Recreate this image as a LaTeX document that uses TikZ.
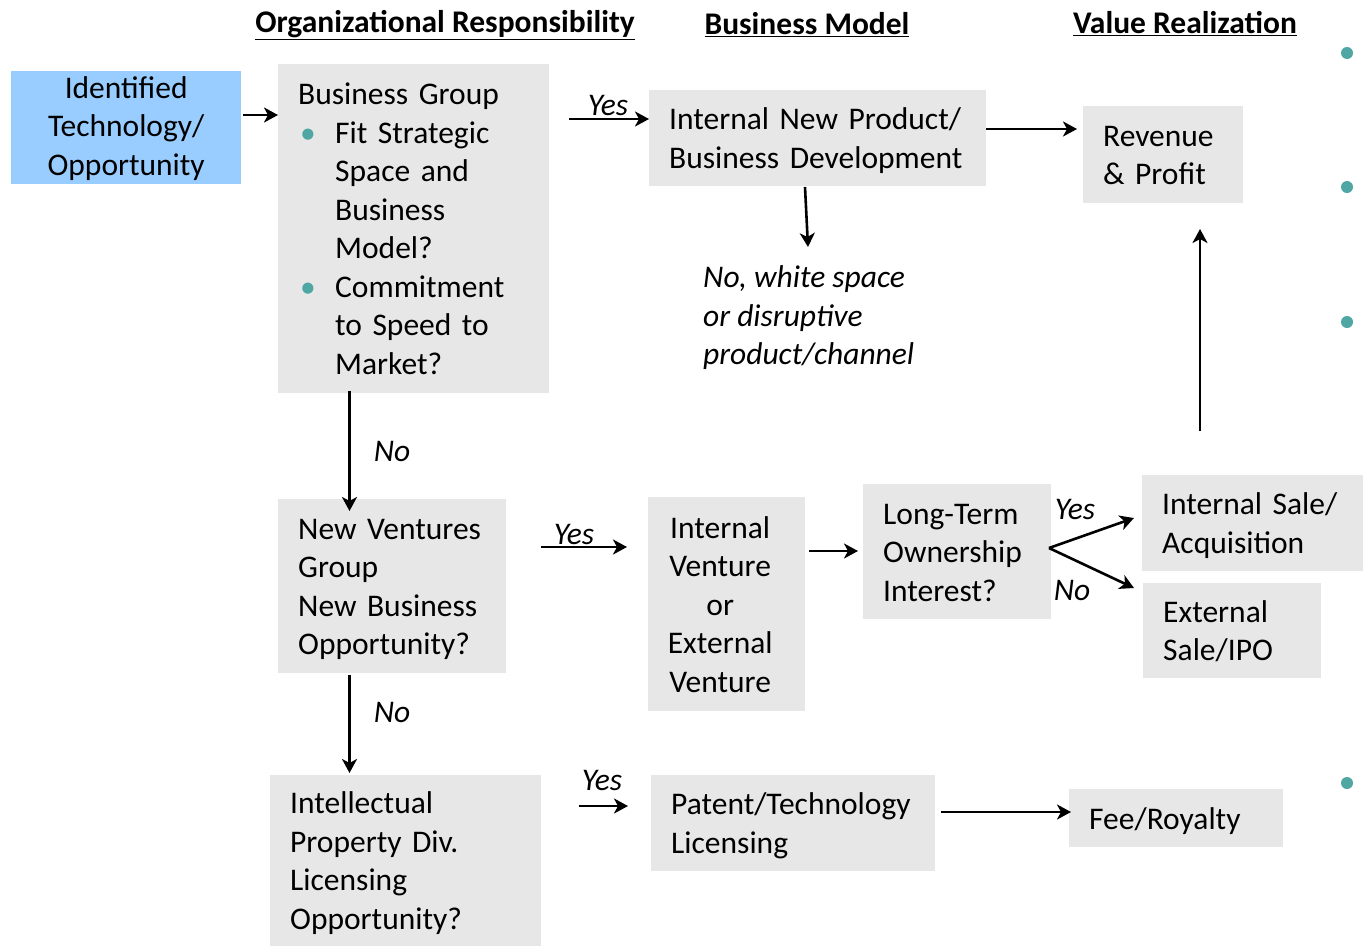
\documentclass[tikz,border=0pt]{standalone}
\usepackage{fontspec}
\setmainfont{Carlito}
\usetikzlibrary{arrows.meta}
\definecolor{boxgray}{RGB}{231,231,231}
\definecolor{boxblue}{RGB}{153,204,255}
\definecolor{dotc}{RGB}{78,167,163}
\newcommand{\topstrut}{\rule{0pt}{31pt}}
\newcommand{\lowtopstrut}{\rule{0pt}{27pt}}
\newcommand{\botstrut}{\rule[-9pt]{0pt}{9pt}}
\begin{document}
\begin{tikzpicture}[x=1pt,y=-1pt,
  every node/.style={font=\fontsize{31.5}{38.5}\selectfont},
  boxbase/.style={fill=boxgray, anchor=north west, inner xsep=20pt, inner ysep=0pt, align=left},
  box/.style={boxbase, execute at begin node={\topstrut}, execute at end node={\botstrut}},
  lbl/.style={font=\fontsize{31.5}{38.5}\selectfont\itshape, inner sep=0pt},
  hdr/.style={font=\fontsize{31.5}{38.5}\selectfont\bfseries, inner sep=0pt},
  arr/.style={line width=2.6pt, -{Stealth[length=14pt,width=15pt,inset=4pt]}},
  tdot/.style={fill=dotc, draw=none, circle, minimum size=12pt, inner sep=0pt}
]
\useasboundingbox (0,0) rectangle (1363,946);
\fill[white] (0,0) rectangle (1363,946);

% headers
\node[hdr] (h1) at (445,25) {\underline{Organizational Responsibility}};
\node[hdr] (h2) at (807,25) {\underline{Business Model}};
\node[hdr] (h3) at (1185,24) {\underline{Value Realization}};

% right edge dots
\node[tdot] (d1) at (1347,53) {};
\node[tdot] (d2) at (1347,187) {};
\node[tdot] (d3) at (1347,322) {};
\node[tdot] (d4) at (1347,783) {};

% boxes
\node[boxbase, fill=boxblue, align=center, minimum width=230pt, minimum height=113pt, text width=190pt,
  execute at begin node={\lowtopstrut}, execute at end node={\botstrut}] (idt) at (11,71)
  {Identified\\Technology/\\Opportunity};
\node[box, minimum width=271pt, minimum height=329pt, text width=231pt] (bg) at (278,64)
  {Business Group\\
   \makebox[37pt][l]{\hspace{2pt}\textcolor{dotc}{\textbullet}}Fit Strategic\\
   \hspace*{37pt}Space and\\
   \hspace*{37pt}Business\\
   \hspace*{37pt}Model?\\
   \makebox[37pt][l]{\hspace{2pt}\textcolor{dotc}{\textbullet}}Commitment\\
   \hspace*{37pt}to Speed to\\
   \hspace*{37pt}Market?};
\node[box, minimum width=337pt, minimum height=96pt, text width=297pt] (inp) at (649,90)
  {Internal New Product/\\Business Development};
\node[box, minimum width=160pt, minimum height=97pt, text width=120pt] (rev) at (1083,106)
  {Revenue\\\& Profit};
\node[box, minimum width=228pt, minimum height=174pt, text width=188pt] (nvg) at (278,499)
  {New Ventures\\Group\\New Business\\Opportunity?};
\node[box, minimum width=157pt, minimum height=214pt, text width=117pt] (iv) at (648,497)
  {\makebox[104pt]{Internal}\\\makebox[104pt]{Venture}\\\makebox[104pt]{or}\\\makebox[104pt]{External}\\\makebox[104pt]{Venture}};
\node[box, minimum width=188pt, minimum height=135pt, text width=148pt] (lt) at (863,484)
  {Long-Term\\Ownership\\Interest?};
\node[box, minimum width=221pt, minimum height=96pt, text width=181pt] (is) at (1142,475)
  {Internal Sale/\\Acquisition};
\node[box, minimum width=178pt, minimum height=95pt, text width=138pt] (es) at (1143,583)
  {External\\Sale/IPO};
\node[box, minimum width=271pt, minimum height=171pt, text width=231pt] (ip) at (270,775)
  {Intellectual\\Property Div.\\Licensing\\Opportunity?};
\node[box, minimum width=284pt, minimum height=96pt, text width=244pt] (pt) at (651,775)
  {Patent/Technology\\Licensing};
\node[box, minimum width=214pt, minimum height=58pt, text width=174pt] (fee) at (1069,789)
  {Fee/Royalty};

% free text
\node[lbl, anchor=west, align=left] (ws) at (703,318)
  {No, white space\\or disruptive\\product/channel};

% labels
\node[lbl] (yes1) at (608,106) {Yes};
\node[lbl] (no1) at (392,451) {No};
\node[lbl] (yes2) at (574,534) {Yes};
\node[lbl] (yes3) at (1075,509) {Yes};
\node[lbl] (no3) at (1072,590) {No};
\node[lbl] (no2) at (392,712) {No};
\node[lbl] (yes4) at (602,780) {Yes};

% connector end points
\coordinate (c1) at (243,115);
\coordinate (c2) at (569,119);
\coordinate (c3) at (1077,129);
\coordinate (c4s) at (805,187);
\coordinate (c4e) at (808,247);
\coordinate (c5s) at (349.5,391);
\coordinate (c5e) at (349.5,511);
\coordinate (c6s) at (541,547);
\coordinate (c6e) at (627,547);
\coordinate (c7s) at (809,551);
\coordinate (c7e) at (858,551);
\coordinate (fork) at (1049,548);
\coordinate (c8a) at (1134,518);
\coordinate (c8b) at (1134,588);
\coordinate (c9s) at (1200,431);
\coordinate (c9e) at (1200,229);
\coordinate (c10s) at (349.5,675);
\coordinate (c10e) at (349.5,773);
\coordinate (c11s) at (579,806);
\coordinate (c11e) at (628,806);
\coordinate (c12s) at (941,812);
\coordinate (c12e) at (1071,812);

% connectors
\draw[arr] (c1) -- (bg.west |- c1);
\draw[arr] (c2) -- (inp.west |- c2);
\draw[arr] (inp.east |- c3) -- (c3);
\draw[arr] (c4s) -- (c4e);
\draw[arr] (c5s) -- (c5e);
\draw[arr] (c6s) -- (c6e);
\draw[arr] (c7s) -- (c7e);
\draw[arr] (fork) -- (c8a);
\draw[arr] (fork) -- (c8b);
\draw[arr] (c9s) -- (c9e);
\draw[arr] (c10s) -- (c10e);
\draw[arr] (c11s) -- (c11e);
\draw[arr] (c12s) -- (c12e);
\end{tikzpicture}
\end{document}
